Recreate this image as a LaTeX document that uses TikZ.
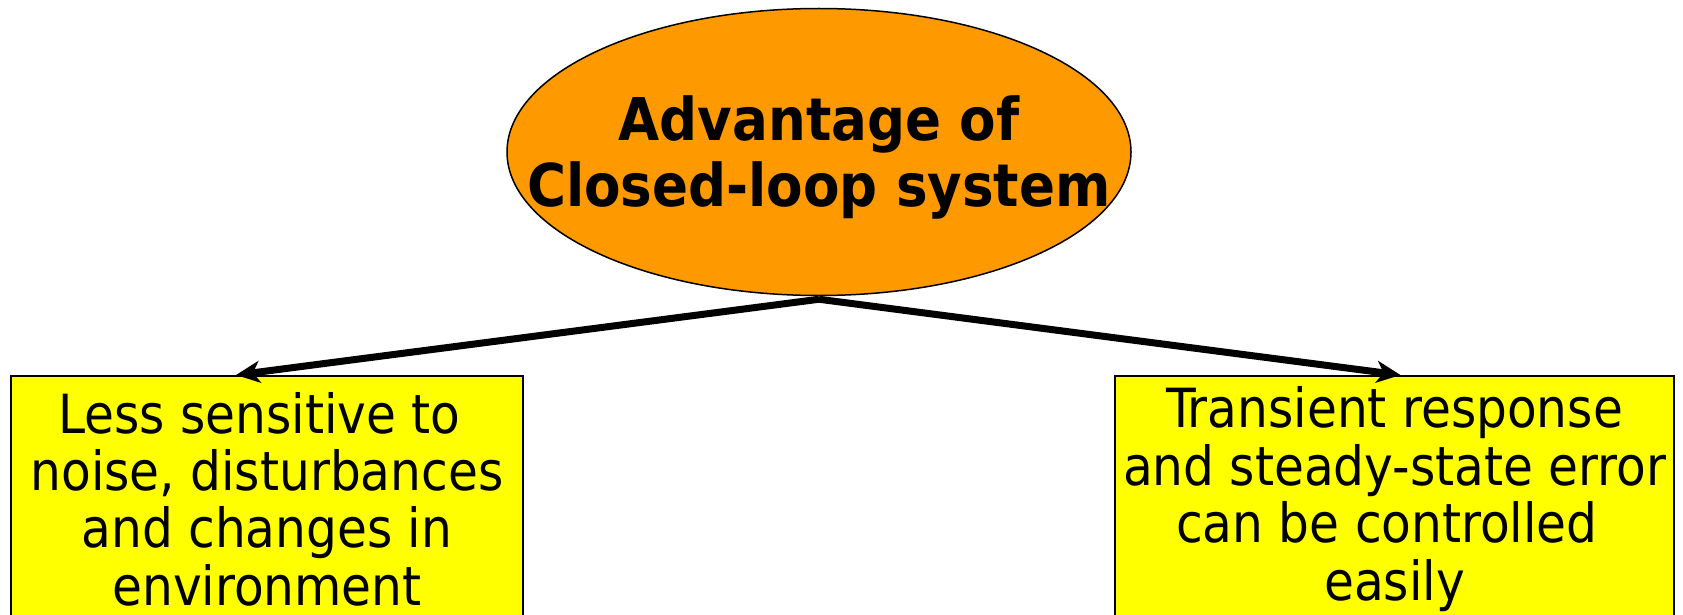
\documentclass[tikz,border=0pt]{standalone}
\usepackage{fontspec}
\setmainfont{DejaVu Sans Condensed}[BoldFont={DejaVu Sans Condensed Bold}]
\usetikzlibrary{shapes.geometric, arrows.meta}
\definecolor{advorange}{HTML}{FF9900}
\definecolor{boxyellow}{HTML}{FFFF00}

\begin{document}
\begin{tikzpicture}[x=1pt, y=-1pt, every node/.style={align=center},
  titlebox/.style={draw, ellipse, fill=advorange, line width=1.5pt, inner xsep=-90pt, inner ysep=0pt,
    minimum width=624pt, minimum height=287pt, font=\bfseries\fontsize{59}{66}\selectfont},
  pointbox/.style={draw, rectangle, fill=boxyellow, line width=2pt, inner sep=0pt,
    minimum height=246pt, font=\fontsize{54}{57.4}\selectfont},
  bigarrow/.style={-{Stealth[length=24pt, width=22pt, inset=7pt]}, line width=7pt}]
\useasboundingbox (0,0) rectangle (1683,615);
\clip (0,0) rectangle (1683,615);

\node (adv) [titlebox] at (819,152) {\rule{0pt}{56pt}Advantage of\\Closed-loop system};
\node (less) [pointbox, minimum width=512pt] at (267,499) {Less sensitive to\kern0.28em\\noise, disturbances\\and changes in\\environment};
\node (easy) [pointbox, minimum width=559pt] at (1394.5,499) {Transient response\\and steady-state error\\can be controlled\kern0.28em\\easily};

\draw[bigarrow] ([yshift=-3pt]adv.south) -- ([xshift=-31pt]less.north);
\draw[bigarrow] ([yshift=-3pt]adv.south) -- ([xshift=6pt]easy.north);
\end{tikzpicture}
\end{document}
